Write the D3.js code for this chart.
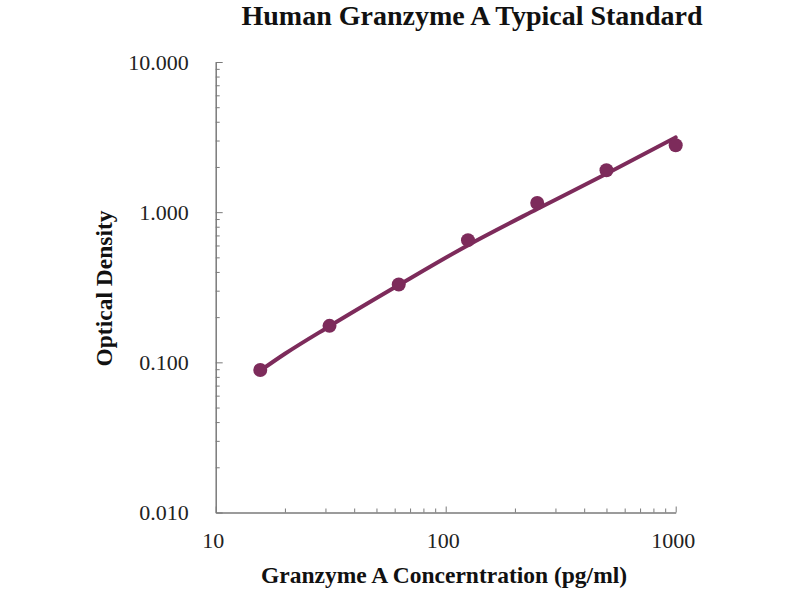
<!DOCTYPE html>
<html>
<head>
<meta charset="utf-8">
<script src="https://cdn.jsdelivr.net/npm/d3@7"></script>
<style>
  body { margin: 0; background: #fff; }
  text { font-family: "Liberation Serif", "Times New Roman", serif; }
</style>
</head>
<body>
<div id="chart"></div>
<script>
// Standard points (pg/ml vs OD)
const conc = [15.625, 31.25, 62.5, 125, 250, 500, 1000];
const od = [0.089, 0.175, 0.330, 0.651, 1.15, 1.90, 2.79];

// Fitted curve
const fitConc = [15.625, 20, 31.25, 62.5, 125, 250, 500, 1000];
const fitOD = [0.088, 0.114, 0.174, 0.327, 0.603, 1.05, 1.80, 3.15];

const xMajor = [10, 100, 1000];
const yMajor = [0.01, 0.1, 1, 10];
const yLabels = ["0.010", "0.100", "1.000", "10.000"];

const width = 800, height = 600;
const plot = { left: 215.7, right: 675.7, top: 62, bottom: 512.5 };
const color = "#7d2b5b";

const svg = d3.select("#chart")
  .append("svg")
    .attr("width", width)
    .attr("height", height);

const x = d3.scaleLog()
  .domain([10, 1000])
  .range([plot.left, plot.right]);

const y = d3.scaleLog()
  .domain([0.01, 10])
  .range([plot.bottom, plot.top]);

// minor ticks for every decade
const minorX = [];
xMajor.slice(0, -1).forEach(d => d3.range(1, 10).forEach(k => minorX.push(d * k)));
minorX.push(1000);
const minorY = [];
yMajor.slice(0, -1).forEach(d => d3.range(1, 10).forEach(k => minorY.push(+(d * k).toPrecision(3))));
minorY.push(10);

const isMajor = (v, list) => list.some(m => Math.abs(Math.log10(v) - Math.log10(m)) < 1e-6);

// Y axis
const yAxis = svg.append("g")
  .attr("transform", `translate(${plot.left},0)`)
  .call(d3.axisLeft(y)
    .tickValues(minorY)
    .tickSizeInner(-4)
    .tickSizeOuter(0)
    .tickPadding(27)
    .tickFormat(d => {
      const i = yMajor.findIndex(m => isMajor(d, [m]));
      return i >= 0 ? yLabels[i] : "";
    }));
yAxis.select(".domain").attr("stroke", "#7a7a7a").attr("stroke-width", 1.5);
yAxis.selectAll(".tick line")
  .attr("stroke", "#7a7a7a")
  .attr("x2", d => isMajor(d, yMajor) ? 7 : 4);
yAxis.selectAll(".tick text")
  .attr("font-size", 22)
  .attr("fill", "#222");

// X axis
const xAxis = svg.append("g")
  .attr("transform", `translate(0,${plot.bottom})`)
  .call(d3.axisBottom(x)
    .tickValues(minorX)
    .tickSizeInner(-4)
    .tickSizeOuter(0)
    .tickPadding(20)
    .tickFormat(d => isMajor(d, xMajor) ? d3.format("d")(d) : ""));
xAxis.select(".domain").attr("stroke", "#7a7a7a").attr("stroke-width", 1.5);
xAxis.selectAll(".tick line")
  .attr("stroke", "#7a7a7a")
  .attr("y2", d => isMajor(d, xMajor) ? -6 : -4);
xAxis.selectAll(".tick text")
  .attr("font-size", 22)
  .attr("dx", -3)
  .attr("fill", "#222");

// Fitted line
const fit = fitConc.map((c, i) => ({ c, v: fitOD[i] }));
svg.append("path")
  .datum(fit)
  .attr("fill", "none")
  .attr("stroke", color)
  .attr("stroke-width", 4)
  .attr("stroke-linecap", "round")
  .attr("d", d3.line()
    .x(d => x(d.c))
    .y(d => y(d.v))
    .curve(d3.curveMonotoneX));

// Standard points
svg.selectAll("circle.pt")
  .data(conc.map((c, i) => ({ c, v: od[i] })))
  .enter().append("circle")
    .attr("class", "pt")
    .attr("cx", d => x(d.c))
    .attr("cy", d => y(d.v))
    .attr("r", 7)
    .attr("fill", color);

// Title and axis labels
svg.append("text")
  .attr("x", 472)
  .attr("y", 25)
  .attr("text-anchor", "middle")
  .attr("font-size", 28)
  .attr("font-weight", "bold")
  .attr("fill", "#111")
  .text("Human Granzyme A Typical Standard");

svg.append("text")
  .attr("x", 444)
  .attr("y", 583)
  .attr("text-anchor", "middle")
  .attr("font-size", 23.5)
  .attr("font-weight", "bold")
  .attr("fill", "#111")
  .text("Granzyme A Concerntration (pg/ml)");

svg.append("text")
  .attr("transform", "translate(112,288.5) rotate(-90)")
  .attr("text-anchor", "middle")
  .attr("font-size", 23.5)
  .attr("font-weight", "bold")
  .attr("fill", "#111")
  .text("Optical Density");
</script>
</body>
</html>
